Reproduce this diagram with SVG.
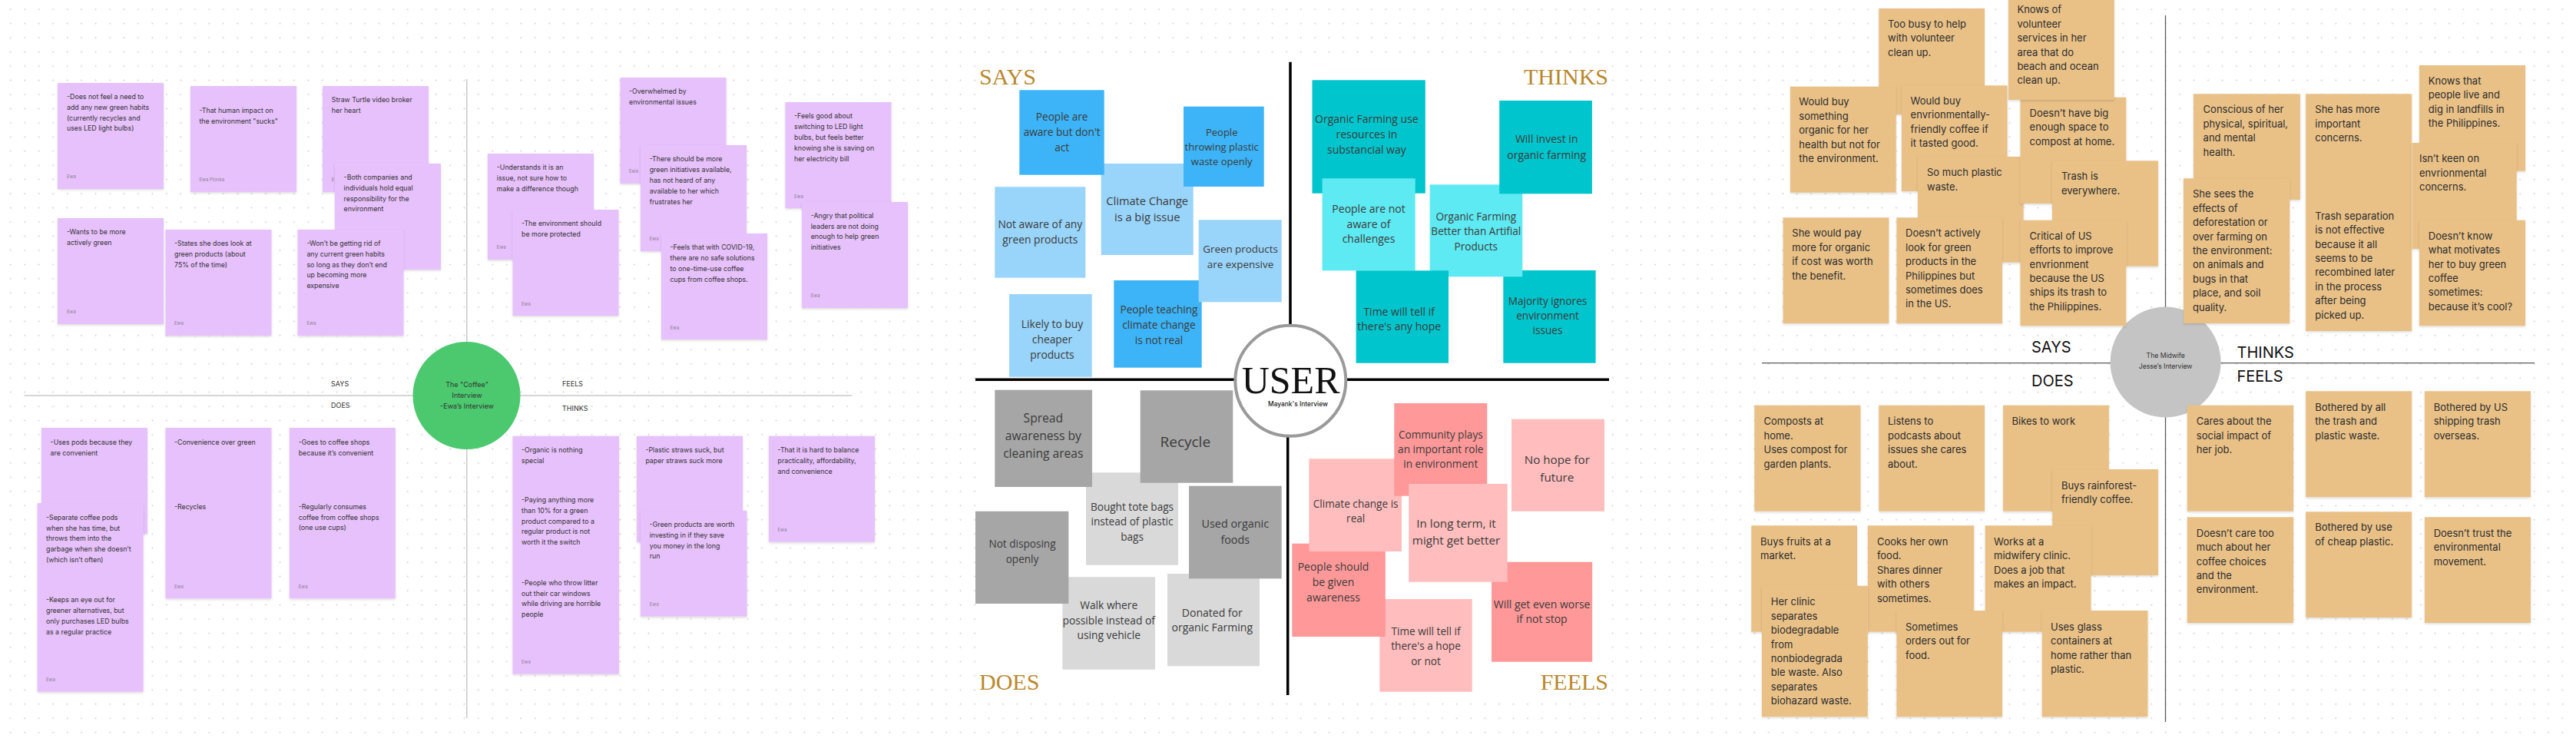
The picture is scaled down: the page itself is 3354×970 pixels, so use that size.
<svg xmlns="http://www.w3.org/2000/svg" width="3354" height="970" viewBox="0 0 3354 970">
<defs>
<pattern id="dots" x="4.57" y="2.97" width="18.46" height="18.46" patternUnits="userSpaceOnUse"><circle cx="9.23" cy="9.23" r="1" fill="#cfcfcf"/></pattern>
<filter id="sh" x="-5%" y="-5%" width="112%" height="112%"><feDropShadow dx="0" dy="1.5" stdDeviation="1.5" flood-color="#000" flood-opacity="0.14"/></filter>
<style>
.lv{fill:#e7c1fc;filter:url(#sh)}
.tn{fill:#e9c187;filter:url(#sh)}
.lt{font-family:Inter,'Liberation Sans',sans-serif;font-size:8.8px;fill:#333}
.ew{font-family:Inter,'Liberation Sans',sans-serif;font-size:6px;fill:#8d8195}
.ll{font-family:Inter,'Liberation Sans',sans-serif;font-size:9px;fill:#333}
.rt{font-family:Inter,'Liberation Sans',sans-serif;font-size:13px;fill:#2d2d2d}
.rl{font-family:Inter,'Liberation Sans',sans-serif;font-size:20px;fill:#111}
.mt{font-family:'Open Sans','Liberation Sans',sans-serif;font-size:13.6px;fill:#3b3b3b;text-anchor:middle}
.gl{font-family:'Liberation Serif',serif;font-size:30px;fill:#b8882c}
.db{fill:#3db4f7}.lb{fill:#99d4fa}.dt{fill:#00c5cc}.lc{fill:#5eeaf2}
.dg{fill:#a6a6a6}.lg{fill:#d9d9d9}.dp{fill:#ff9898}.lp{fill:#ffbdbd}
</style>
</defs>
<rect width="3354" height="970" fill="#ffffff"/>
<rect width="3354" height="970" fill="url(#dots)"/>

<!-- ===== LEFT PANEL ===== -->
<g id="left-connectors" stroke="#c9c9c9" stroke-width="1.5" fill="none">
<line x1="607.8" y1="103" x2="607.8" y2="935"/>
<line x1="31.6" y1="515" x2="1109" y2="515"/>
</g>
<g id="left-labels">
<text class="ll" x="431" y="502.7">SAYS</text>
<text class="ll" x="431" y="531">DOES</text>
<text class="ll" x="732" y="502.7">FEELS</text>
<text class="ll" x="732" y="535">THINKS</text>
</g>
<g id="coffee-center">
<circle cx="607.5" cy="515" r="70" fill="#4cc96f"/>
<text class="ll" text-anchor="middle" fill="#222"><tspan x="608" y="504.3">The "Coffee"</tspan><tspan x="608" y="518.3">Interview</tspan><tspan x="608" y="532">-Ewa’s Interview</tspan></text>
</g>

<g id="l-says-1"><rect class="lv" x="75" y="108" width="138" height="138"/>
<text class="lt"><tspan x="87" y="129">-Does not feel a need to</tspan><tspan x="87" dy="13.8">add any new green habits</tspan><tspan x="87" dy="13.8">(currently recycles and</tspan><tspan x="87" dy="13.8">uses LED light bulbs)</tspan></text>
<text class="ew" x="87" y="231.7">Ewa</text></g>
<g id="l-says-2"><rect class="lv" x="248" y="112" width="138" height="138"/>
<text class="lt"><tspan x="259.4" y="146.7">-That human impact on</tspan><tspan x="259.4" dy="13.8">the environment "sucks"</tspan></text>
<text class="ew" x="259.4" y="235.7">Ewa Plonka</text></g>
<g id="l-says-3"><rect class="lv" x="420" y="112" width="138" height="138"/>
<text class="lt"><tspan x="431.8" y="132.7">Straw Turtle video broker</tspan><tspan x="431.8" dy="13.8">her heart</tspan></text>
<text class="ew" x="431.8" y="235.7">Ewa</text></g>
<g id="l-says-4"><rect class="lv" x="436" y="213" width="138" height="138"/>
<text class="lt"><tspan x="447.6" y="234">-Both companies and</tspan><tspan x="447.6" dy="13.8">individuals hold equal</tspan><tspan x="447.6" dy="13.8">responsibility for the</tspan><tspan x="447.6" dy="13.8">environment</tspan></text></g>
<g id="l-says-5"><rect class="lv" x="75" y="284" width="138" height="138"/>
<text class="lt"><tspan x="87" y="305.3">-Wants to be more</tspan><tspan x="87" dy="13.8">actively green</tspan></text>
<text class="ew" x="87" y="408.3">Ewa</text></g>
<g id="l-says-6"><rect class="lv" x="215.5" y="299" width="138" height="138"/>
<text class="lt"><tspan x="227" y="320">-States she does look at</tspan><tspan x="227" dy="13.8">green products (about</tspan><tspan x="227" dy="13.8">75% of the time)</tspan></text>
<text class="ew" x="227" y="423">Ewa</text></g>
<g id="l-says-7"><rect class="lv" x="387.5" y="299" width="138" height="138"/>
<text class="lt"><tspan x="399.4" y="320">-Won’t be getting rid of</tspan><tspan x="399.4" dy="13.8">any current green habits</tspan><tspan x="399.4" dy="13.8">so long as they don’t end</tspan><tspan x="399.4" dy="13.8">up becoming more</tspan><tspan x="399.4" dy="13.8">expensive</tspan></text>
<text class="ew" x="399.4" y="423">Ewa</text></g>

<g id="l-feels-1"><rect class="lv" x="635" y="200" width="138" height="138"/>
<text class="lt"><tspan x="646.8" y="221">-Understands it is an</tspan><tspan x="646.8" dy="13.8">issue, not sure how to</tspan><tspan x="646.8" dy="13.8">make a difference though</tspan></text>
<text class="ew" x="646.8" y="324">Ewa</text></g>
<g id="l-feels-2"><rect class="lv" x="667.5" y="273" width="138" height="138"/>
<text class="lt"><tspan x="679" y="294.3">-The environment should</tspan><tspan x="679" dy="13.8">be more protected</tspan></text>
<text class="ew" x="679" y="397.7">Ewa</text></g>
<g id="l-feels-3"><rect class="lv" x="807.5" y="101" width="138" height="138"/>
<text class="lt"><tspan x="819" y="122.3">-Overwhelmed by</tspan><tspan x="819" dy="13.8">environmental issues</tspan></text>
<text class="ew" x="819" y="225.3">Ewa</text></g>
<g id="l-feels-4"><rect class="lv" x="834" y="189" width="138" height="138"/>
<text class="lt"><tspan x="845.7" y="210.3">-There should be more</tspan><tspan x="845.7" dy="13.8">green initiatives available,</tspan><tspan x="845.7" dy="13.8">has not heard of any</tspan><tspan x="845.7" dy="13.8">available to her which</tspan><tspan x="845.7" dy="13.8">frustrates her</tspan></text>
<text class="ew" x="845.7" y="313.3">Ewa</text></g>
<g id="l-feels-5"><rect class="lv" x="861" y="304" width="138" height="138"/>
<text class="lt"><tspan x="872.5" y="325.3">-Feels that with COVID-19,</tspan><tspan x="872.5" dy="13.8">there are no safe solutions</tspan><tspan x="872.5" dy="13.8">to one-time-use coffee</tspan><tspan x="872.5" dy="13.8">cups from coffee shops.</tspan></text>
<text class="ew" x="872.5" y="428.7">Ewa</text></g>
<g id="l-feels-6"><rect class="lv" x="1022.5" y="133" width="138" height="138"/>
<text class="lt"><tspan x="1034" y="154.3">-Feels good about</tspan><tspan x="1034" dy="13.8">switching to LED light</tspan><tspan x="1034" dy="13.8">bulbs, but feels better</tspan><tspan x="1034" dy="13.8">knowing she is saving on</tspan><tspan x="1034" dy="13.8">her electricity bill</tspan></text>
<text class="ew" x="1034" y="257.7">Ewa</text></g>
<g id="l-feels-7"><rect class="lv" x="1044" y="263" width="138" height="138"/>
<text class="lt"><tspan x="1055.7" y="283.7">-Angry that political</tspan><tspan x="1055.7" dy="13.8">leaders are not doing</tspan><tspan x="1055.7" dy="13.8">enough to help green</tspan><tspan x="1055.7" dy="13.8">initiatives</tspan></text>
<text class="ew" x="1055.7" y="386.7">Ewa</text></g>

<g id="l-does-1"><rect class="lv" x="54" y="557" width="138" height="138"/>
<text class="lt"><tspan x="65.6" y="578.7">-Uses pods because they</tspan><tspan x="65.6" dy="13.8">are convenient</tspan></text></g>
<g id="l-does-2"><rect class="lv" x="48.6" y="655" width="138" height="245.7"/>
<text class="lt"><tspan x="60" y="676.7">-Separate coffee pods</tspan><tspan x="60" dy="13.8">when she has time, but</tspan><tspan x="60" dy="13.8">throws them into the</tspan><tspan x="60" dy="13.8">garbage when she doesn’t</tspan><tspan x="60" dy="13.8">(which isn’t often)</tspan></text>
<text class="lt"><tspan x="60" y="784.3">-Keeps an eye out for</tspan><tspan x="60" dy="13.8">greener alternatives, but</tspan><tspan x="60" dy="13.8">only purchases LED bulbs</tspan><tspan x="60" dy="13.8">as a regular practice</tspan></text>
<text class="ew" x="60" y="887.3">Ewa</text></g>
<g id="l-does-3"><rect class="lv" x="215.5" y="557" width="138" height="222.3"/>
<text class="lt" x="227" y="578.7">-Convenience over green</text>
<text class="lt" x="227" y="662.7">-Recycles</text>
<text class="ew" x="227" y="766">Ewa</text></g>
<g id="l-does-4"><rect class="lv" x="376.8" y="557" width="138" height="222.3"/>
<text class="lt"><tspan x="388.7" y="578.7">-Goes to coffee shops</tspan><tspan x="388.7" dy="13.8">because it’s convenient</tspan></text>
<text class="lt"><tspan x="388.7" y="662.7">-Regularly consumes</tspan><tspan x="388.7" dy="13.8">coffee from coffee shops</tspan><tspan x="388.7" dy="13.8">(one use cups)</tspan></text>
<text class="ew" x="388.7" y="766">Ewa</text></g>

<g id="l-thinks-1"><rect class="lv" x="667.5" y="567.7" width="138.5" height="310"/>
<text class="lt"><tspan x="679" y="589.3">-Organic is nothing</tspan><tspan x="679" dy="13.8">special</tspan></text>
<text class="lt"><tspan x="679" y="654">-Paying anything more</tspan><tspan x="679" dy="13.8">than 10% for a green</tspan><tspan x="679" dy="13.8">product compared to a</tspan><tspan x="679" dy="13.8">regular product is not</tspan><tspan x="679" dy="13.8">worth it the switch</tspan></text>
<text class="lt"><tspan x="679" y="761.7">-People who throw litter</tspan><tspan x="679" dy="13.8">out their car windows</tspan><tspan x="679" dy="13.8">while driving are horrible</tspan><tspan x="679" dy="13.8">people</tspan></text>
<text class="ew" x="679" y="864.3">Ewa</text></g>
<g id="l-thinks-2"><rect class="lv" x="829" y="567.7" width="138" height="138"/>
<text class="lt"><tspan x="840.4" y="589.3">-Plastic straws suck, but</tspan><tspan x="840.4" dy="13.8">paper straws suck more</tspan></text></g>
<g id="l-thinks-3"><rect class="lv" x="834" y="664.7" width="138.5" height="138"/>
<text class="lt"><tspan x="845.7" y="686">-Green products are worth</tspan><tspan x="845.7" dy="13.8">investing in if they save</tspan><tspan x="845.7" dy="13.8">you money in the long</tspan><tspan x="845.7" dy="13.8">run</tspan></text>
<text class="ew" x="845.7" y="789">Ewa</text></g>
<g id="l-thinks-4"><rect class="lv" x="1001" y="567.7" width="138" height="138"/>
<text class="lt"><tspan x="1012.5" y="589.3">-That it is hard to balance</tspan><tspan x="1012.5" dy="13.8">practicality, affordability,</tspan><tspan x="1012.5" dy="13.8">and convenience</tspan></text>
<text class="ew" x="1012.5" y="692.3">Ewa</text></g>

<!-- ===== MIDDLE PANEL ===== -->
<rect x="1271" y="75" width="826" height="831" fill="#ffffff"/>
<g id="mid-connectors" stroke="#000" stroke-width="3.5" fill="none">
<line x1="1680" y1="80.7" x2="1680" y2="425"/>
<line x1="1676.7" y1="565" x2="1676.7" y2="905"/>
<line x1="1270" y1="494.3" x2="2095" y2="494.3"/>
</g>
<g id="mid-labels">
<text class="gl" x="1275" y="110">SAYS</text>
<text class="gl" x="2094" y="110" text-anchor="end">THINKS</text>
<text class="gl" x="1275" y="898.3">DOES</text>
<text class="gl" x="2094" y="898.3" text-anchor="end">FEELS</text>
</g>

<g id="m-says-2"><rect class="lb" x="1433.7" y="213" width="120" height="119"/>
<text class="mt" style="font-size:14.6px"><tspan x="1493.7" y="266.7">Climate Change</tspan><tspan x="1493.7" dy="21.3">is a big issue</tspan></text></g>
<g id="m-says-1"><rect class="db" x="1327.3" y="117.3" width="110.4" height="110.4"/>
<text class="mt"><tspan x="1382.7" y="156.7">People are</tspan><tspan x="1382.7" dy="20.5">aware but don't</tspan><tspan x="1382.7" dy="20">act</tspan></text></g>
<g id="m-says-3"><rect class="db" x="1541" y="138.7" width="104.7" height="104.3"/>
<text class="mt" style="font-size:13px"><tspan x="1590.7" y="176.7">People</tspan><tspan x="1590.7" dy="19.3">throwing plastic</tspan><tspan x="1590.7" dy="19.3">waste openly</tspan></text></g>
<g id="m-says-4"><rect class="lb" x="1295.3" y="243.3" width="118" height="118.4"/>
<text class="mt" style="font-size:13.8px"><tspan x="1354.3" y="296.7">Not aware of any</tspan><tspan x="1354.3" dy="20.6">green products</tspan></text></g>
<g id="m-says-7"><rect class="db" x="1450.3" y="365" width="114.4" height="113.7"/>
<text class="mt"><tspan x="1509" y="408.3">People teaching</tspan><tspan x="1509" dy="19.8">climate change</tspan><tspan x="1509" dy="20.2">is not real</tspan></text></g>
<g id="m-says-5"><rect class="lb" x="1560.7" y="286.3" width="108" height="107"/>
<text class="mt" style="font-size:13.4px"><tspan x="1615" y="329.3">Green products</tspan><tspan x="1615" dy="19.4">are expensive</tspan></text></g>
<g id="m-says-6"><rect class="lb" x="1314" y="383" width="107.7" height="107.7"/>
<text class="mt" style="font-size:13.8px"><tspan x="1370" y="426.7">Likely to buy</tspan><tspan x="1370" dy="20">cheaper</tspan><tspan x="1370" dy="20.6">products</tspan></text></g>

<g id="m-thinks-1"><rect class="dt" x="1708.5" y="104.3" width="147.3" height="147.4"/>
<text class="mt" style="font-size:14px"><tspan x="1779.4" y="160">Organic Farming use</tspan><tspan x="1779.4" dy="20">resources in</tspan><tspan x="1779.4" dy="20">substancial way</tspan></text></g>
<g id="m-thinks-6"><rect class="dt" x="1957.3" y="352" width="120.3" height="120.7"/>
<text class="mt"><tspan x="2015" y="396.7">Majority ignores</tspan><tspan x="2015" dy="19.3">environment</tspan><tspan x="2015" dy="19.3">issues</tspan></text></g>
<g id="m-thinks-3"><rect class="lc" x="1861.6" y="240.3" width="120.7" height="120"/>
<text class="mt"><tspan x="1921.8" y="286.7">Organic Farming</tspan><tspan x="1921.8" dy="19.3">Better than Artifial</tspan><tspan x="1921.8" dy="20">Products</tspan></text></g>
<g id="m-thinks-4"><rect class="dt" x="1952.2" y="131" width="120.7" height="121.3"/>
<text class="mt" style="font-size:14px"><tspan x="2013.7" y="186">Will invest in</tspan><tspan x="2013.7" dy="20.7">organic farming</tspan></text></g>
<g id="m-thinks-2"><rect class="lc" x="1721.6" y="232.3" width="121.1" height="120"/>
<text class="mt" style="font-size:14px"><tspan x="1782" y="276.7">People are not</tspan><tspan x="1782" dy="20">aware of</tspan><tspan x="1782" dy="19.3">challenges</tspan></text></g>
<g id="m-thinks-5"><rect class="dt" x="1765.6" y="352.3" width="120.4" height="120.4"/>
<text class="mt" style="font-size:14px"><tspan x="1821.7" y="410.7">Time will tell if</tspan><tspan x="1821.7" dy="19.3">there's any hope</tspan></text></g>

<g id="m-does-3"><rect class="lg" x="1414" y="615.3" width="120" height="120.4"/>
<text class="mt"><tspan x="1474" y="665">Bought tote bags</tspan><tspan x="1474" dy="19.3">instead of plastic</tspan><tspan x="1474" dy="19.7">bags</tspan></text></g>
<g id="m-does-1"><rect class="dg" x="1295.3" y="507.7" width="126.7" height="126.3"/>
<text class="mt" style="font-size:15.6px"><tspan x="1358.3" y="550">Spread</tspan><tspan x="1358.3" dy="23.3">awareness by</tspan><tspan x="1358.3" dy="22.7">cleaning areas</tspan></text></g>
<g id="m-does-2"><rect class="dg" x="1484.7" y="508.3" width="120.6" height="120.4"/>
<text class="mt" style="font-size:19px" x="1543.3" y="581.7">Recycle</text></g>
<g id="m-does-6"><rect class="lg" x="1383.3" y="751.3" width="120.7" height="120.4"/>
<text class="mt" style="font-size:13.8px"><tspan x="1443.7" y="793.3">Walk where</tspan><tspan x="1443.7" dy="19.4">possible instead of</tspan><tspan x="1443.7" dy="19.3">using vehicle</tspan></text></g>
<g id="m-does-5"><rect class="dg" x="1270" y="665.7" width="121.3" height="120.3"/>
<text class="mt" style="font-size:13.6px"><tspan x="1331" y="713.3">Not disposing</tspan><tspan x="1331" dy="20">openly</tspan></text></g>
<g id="m-does-7"><rect class="lg" x="1520" y="747" width="120" height="120.3"/>
<text class="mt" style="font-size:14px"><tspan x="1578.3" y="802.7">Donated for</tspan><tspan x="1578.3" dy="19.6">organic Farming</tspan></text></g>
<g id="m-does-4"><rect class="dg" x="1548" y="632.7" width="120.7" height="120.6"/>
<text class="mt" style="font-size:14.4px"><tspan x="1608.3" y="686.7">Used organic</tspan><tspan x="1608.3" dy="21">foods</tspan></text></g>

<g id="m-feels-6"><rect class="lp" x="1796.3" y="780" width="120.4" height="120.7"/>
<text class="mt"><tspan x="1856.5" y="826.7">Time will tell if</tspan><tspan x="1856.5" dy="19.3">there's a hope</tspan><tspan x="1856.5" dy="20">or not</tspan></text></g>
<g id="m-feels-5"><rect class="dp" x="1682.3" y="707.7" width="121.5" height="121.3"/>
<text class="mt" style="font-size:14px"><tspan x="1736" y="743.3">People should</tspan><tspan x="1736" dy="20">be given</tspan><tspan x="1736" dy="19.4">awareness</tspan></text></g>
<g id="m-feels-2"><rect class="lp" x="1704.4" y="597.3" width="120.6" height="120.7"/>
<text class="mt"><tspan x="1765.2" y="661">Climate change is</tspan><tspan x="1765.2" dy="19">real</tspan></text></g>
<g id="m-feels-1"><rect class="dp" x="1815.3" y="525" width="121" height="120.7"/>
<text class="mt"><tspan x="1875.8" y="570.7">Community plays</tspan><tspan x="1875.8" dy="19.3">an important role</tspan><tspan x="1875.8" dy="19.3">in environment</tspan></text></g>
<g id="m-feels-7"><rect class="dp" x="1942" y="731.7" width="131.2" height="130"/>
<text class="mt" style="font-size:14px"><tspan x="2007.6" y="791.7">Will get even worse</tspan><tspan x="2007.6" dy="19.3">if not stop</tspan></text></g>
<g id="m-feels-3"><rect class="lp" x="1834.2" y="630" width="128.5" height="127.7"/>
<text class="mt" style="font-size:15.2px"><tspan x="1896" y="686.7">In long term, it</tspan><tspan x="1896" dy="22.6">might get better</tspan></text></g>
<g id="m-feels-4"><rect class="lp" x="1968" y="545.7" width="121" height="120"/>
<text class="mt" style="font-size:15.2px"><tspan x="2027.3" y="604">No hope for</tspan><tspan x="2027.3" dy="22.7">future</tspan></text></g>

<g id="user-center">
<circle cx="1680.3" cy="495.8" r="72" fill="#ffffff" stroke="#9a9a9a" stroke-width="4"/>
<text x="1680.6" y="511.7" text-anchor="middle" font-family="'Liberation Serif',serif" font-size="50" fill="#111">USER</text>
<text x="1690" y="529" text-anchor="middle" font-family="Inter,'Liberation Sans',sans-serif" font-size="8.4" font-weight="500" fill="#222">Mayank's Interview</text>
</g>

<!-- ===== RIGHT PANEL ===== -->
<g id="right-connectors" stroke="#5a5a5a" stroke-width="1.3" fill="none">
<line x1="2819.5" y1="20" x2="2819.5" y2="940"/>
<line x1="2294" y1="472.7" x2="3300" y2="472.7"/>
</g>
<g id="right-labels">
<text class="rl" x="2645" y="459.3">SAYS</text>
<text class="rl" x="2645" y="503.3">DOES</text>
<text class="rl" x="2912.5" y="466">THINKS</text>
<text class="rl" x="2912.5" y="496.7">FEELS</text>
</g>
<g id="midwife-center">
<circle cx="2819.6" cy="471.5" r="72" fill="#c4c4c4"/>
<text font-family="Inter,'Liberation Sans',sans-serif" font-size="8.6" fill="#333" text-anchor="middle"><tspan x="2819.7" y="466">The Midwife</tspan><tspan x="2819.6" y="480">Jesse’s Interview</tspan></text>
</g>

<g id="r-says-1"><rect class="tn" x="2446.3" y="11" width="137.7" height="138"/>
<text class="rt"><tspan x="2458" y="36">Too busy to help</tspan><tspan x="2458" dy="18.4">with volunteer</tspan><tspan x="2458" dy="18.4">clean up.</tspan></text></g>
<g id="r-says-3"><rect class="tn" x="2331" y="112.7" width="137.7" height="138"/>
<text class="rt"><tspan x="2342.3" y="137.3">Would buy</tspan><tspan x="2342.3" dy="18.4">something</tspan><tspan x="2342.3" dy="18.4">organic for her</tspan><tspan x="2342.3" dy="18.4">health but not for</tspan><tspan x="2342.3" dy="18.4">the environment.</tspan></text></g>
<g id="r-says-4"><rect class="tn" x="2476" y="111.3" width="137.6" height="137.7"/>
<text class="rt"><tspan x="2487.6" y="136">Would buy</tspan><tspan x="2487.6" dy="18.4">envrionmentally-</tspan><tspan x="2487.6" dy="18.4">friendly coffee if</tspan><tspan x="2487.6" dy="18.4">it tasted good.</tspan></text></g>
<g id="r-says-6"><rect class="tn" x="2497" y="204" width="137.6" height="137.7"/>
<text class="rt"><tspan x="2509" y="229.3">So much plastic</tspan><tspan x="2509" dy="18.4">waste.</tspan></text></g>
<g id="r-says-5"><rect class="tn" x="2630.5" y="126.7" width="137.8" height="138.3"/>
<text class="rt"><tspan x="2642.6" y="151.7">Doesn’t have big</tspan><tspan x="2642.6" dy="18.4">enough space to</tspan><tspan x="2642.6" dy="18.4">compost at home.</tspan></text></g>
<g id="r-says-2"><rect class="tn" x="2615" y="-8" width="137.8" height="138"/>
<text class="rt"><tspan x="2626.4" y="17.3">Knows of</tspan><tspan x="2626.4" dy="18.4">volunteer</tspan><tspan x="2626.4" dy="18.4">services in her</tspan><tspan x="2626.4" dy="18.4">area that do</tspan><tspan x="2626.4" dy="18.4">beach and ocean</tspan><tspan x="2626.4" dy="18.4">clean up.</tspan></text></g>
<g id="r-says-7"><rect class="tn" x="2672" y="209.3" width="138" height="137.4"/>
<text class="rt"><tspan x="2683.9" y="234.3">Trash is</tspan><tspan x="2683.9" dy="18.4">everywhere.</tspan></text></g>
<g id="r-says-9"><rect class="tn" x="2469.4" y="283.3" width="137.6" height="137.7"/>
<text class="rt"><tspan x="2481" y="308.3">Doesn’t actively</tspan><tspan x="2481" dy="18.4">look for green</tspan><tspan x="2481" dy="18.4">products in the</tspan><tspan x="2481" dy="18.4">Philippines but</tspan><tspan x="2481" dy="18.4">sometimes does</tspan><tspan x="2481" dy="18.4">in the US.</tspan></text></g>
<g id="r-says-8"><rect class="tn" x="2321.6" y="283.3" width="137.8" height="137.7"/>
<text class="rt"><tspan x="2333.3" y="308.3">She would pay</tspan><tspan x="2333.3" dy="18.4">more for organic</tspan><tspan x="2333.3" dy="18.4">if cost was worth</tspan><tspan x="2333.3" dy="18.4">the benefit.</tspan></text></g>
<g id="r-says-10"><rect class="tn" x="2630.5" y="286.7" width="137.8" height="137.6"/>
<text class="rt"><tspan x="2642.6" y="311.7">Critical of US</tspan><tspan x="2642.6" dy="18.4">efforts to improve</tspan><tspan x="2642.6" dy="18.4">envrionment</tspan><tspan x="2642.6" dy="18.4">because the US</tspan><tspan x="2642.6" dy="18.4">ships its trash to</tspan><tspan x="2642.6" dy="18.4">the Philippines.</tspan></text></g>

<g id="r-thinks-1"><rect class="tn" x="2856" y="122.3" width="138.9" height="137.7"/>
<text class="rt"><tspan x="2868.6" y="147.3">Conscious of her</tspan><tspan x="2868.6" dy="18.4">physical, spiritual,</tspan><tspan x="2868.6" dy="18.4">and mental</tspan><tspan x="2868.6" dy="18.4">health.</tspan></text></g>
<g id="r-thinks-2"><rect class="tn" x="2843" y="232.3" width="138.3" height="188.7"/>
<text class="rt"><tspan x="2855" y="257.3">She sees the</tspan><tspan x="2855" dy="18.4">effects of</tspan><tspan x="2855" dy="18.4">deforestation or</tspan><tspan x="2855" dy="18.4">over farming on</tspan><tspan x="2855" dy="18.4">the environment:</tspan><tspan x="2855" dy="18.4">on animals and</tspan><tspan x="2855" dy="18.4">bugs in that</tspan><tspan x="2855" dy="18.4">place, and soil</tspan><tspan x="2855" dy="18.4">quality.</tspan></text></g>
<g id="r-thinks-3"><rect class="tn" x="3002.2" y="122.3" width="138" height="308.7"/>
<text class="rt"><tspan x="3014.3" y="147.3">She has more</tspan><tspan x="3014.3" dy="18.4">important</tspan><tspan x="3014.3" dy="18.4">concerns.</tspan></text>
<text class="rt"><tspan x="3014.3" y="285.7">Trash separation</tspan><tspan x="3014.3" dy="18.4">is not effective</tspan><tspan x="3014.3" dy="18.4">because it all</tspan><tspan x="3014.3" dy="18.4">seems to be</tspan><tspan x="3014.3" dy="18.4">recombined later</tspan><tspan x="3014.3" dy="18.4">in the process</tspan><tspan x="3014.3" dy="18.4">after being</tspan><tspan x="3014.3" dy="18.4">picked up.</tspan></text></g>
<g id="r-thinks-4"><rect class="tn" x="3150" y="85" width="138" height="137.7"/>
<text class="rt"><tspan x="3161.8" y="110">Knows that</tspan><tspan x="3161.8" dy="18.4">people live and</tspan><tspan x="3161.8" dy="18.4">dig in landfills in</tspan><tspan x="3161.8" dy="18.4">the Philippines.</tspan></text></g>
<g id="r-thinks-5"><rect class="tn" x="3140.5" y="186" width="136.2" height="138"/>
<text class="rt"><tspan x="3150" y="211.3">Isn’t keen on</tspan><tspan x="3150" dy="18.4">envrionmental</tspan><tspan x="3150" dy="18.4">concerns.</tspan></text></g>
<g id="r-thinks-6"><rect class="tn" x="3150" y="286.7" width="138" height="137.6"/>
<text class="rt"><tspan x="3161.8" y="311.7">Doesn’t know</tspan><tspan x="3161.8" dy="18.4">what motivates</tspan><tspan x="3161.8" dy="18.4">her to buy green</tspan><tspan x="3161.8" dy="18.4">coffee</tspan><tspan x="3161.8" dy="18.4">sometimes:</tspan><tspan x="3161.8" dy="18.4">because it’s cool?</tspan></text></g>

<g id="r-does-1"><rect class="tn" x="2284.4" y="527.7" width="138.1" height="138"/>
<text class="rt"><tspan x="2296.5" y="553.3">Composts at</tspan><tspan x="2296.5" dy="18.4">home.</tspan><tspan x="2296.5" dy="18.4">Uses compost for</tspan><tspan x="2296.5" dy="18.4">garden plants.</tspan></text></g>
<g id="r-does-2"><rect class="tn" x="2446.3" y="527.7" width="137.7" height="138"/>
<text class="rt"><tspan x="2458" y="553.3">Listens to</tspan><tspan x="2458" dy="18.4">podcasts about</tspan><tspan x="2458" dy="18.4">issues she cares</tspan><tspan x="2458" dy="18.4">about.</tspan></text></g>
<g id="r-does-3"><rect class="tn" x="2608" y="527.7" width="137.9" height="138"/>
<text class="rt" x="2619.5" y="553.3">Bikes to work</text></g>
<g id="r-does-4"><rect class="tn" x="2672.2" y="611" width="137.8" height="138"/>
<text class="rt"><tspan x="2683.9" y="636.7">Buys rainforest-</tspan><tspan x="2683.9" dy="18.4">friendly coffee.</tspan></text></g>
<g id="r-does-5"><rect class="tn" x="2280.3" y="684.3" width="137.7" height="138.4"/>
<text class="rt"><tspan x="2292" y="710">Buys fruits at a</tspan><tspan x="2292" dy="18.4">market.</tspan></text></g>
<g id="r-does-6"><rect class="tn" x="2431.8" y="684.3" width="138.4" height="138.4"/>
<text class="rt"><tspan x="2443.9" y="710">Cooks her own</tspan><tspan x="2443.9" dy="18.4">food.</tspan><tspan x="2443.9" dy="18.4">Shares dinner</tspan><tspan x="2443.9" dy="18.4">with others</tspan><tspan x="2443.9" dy="18.4">sometimes.</tspan></text></g>
<g id="r-does-7"><rect class="tn" x="2584.7" y="684.3" width="137.8" height="138.4"/>
<text class="rt"><tspan x="2596" y="710">Works at a</tspan><tspan x="2596" dy="18.4">midwifery clinic.</tspan><tspan x="2596" dy="18.4">Does a job that</tspan><tspan x="2596" dy="18.4">makes an impact.</tspan></text></g>
<g id="r-does-8"><rect class="tn" x="2294" y="762.7" width="137.8" height="170.6"/>
<text class="rt"><tspan x="2305.8" y="788.3">Her clinic</tspan><tspan x="2305.8" dy="18.4">separates</tspan><tspan x="2305.8" dy="18.4">biodegradable</tspan><tspan x="2305.8" dy="18.4">from</tspan><tspan x="2305.8" dy="18.4">nonbiodegrada</tspan><tspan x="2305.8" dy="18.4">ble waste. Also</tspan><tspan x="2305.8" dy="18.4">separates</tspan><tspan x="2305.8" dy="18.4">biohazard waste.</tspan></text></g>
<g id="r-does-9"><rect class="tn" x="2469.4" y="795" width="137.6" height="138.3"/>
<text class="rt"><tspan x="2481" y="820.7">Sometimes</tspan><tspan x="2481" dy="18.4">orders out for</tspan><tspan x="2481" dy="18.4">food.</tspan></text></g>
<g id="r-does-10"><rect class="tn" x="2658.7" y="795" width="137.8" height="138.3"/>
<text class="rt"><tspan x="2670" y="820.7">Uses glass</tspan><tspan x="2670" dy="18.4">containers at</tspan><tspan x="2670" dy="18.4">home rather than</tspan><tspan x="2670" dy="18.4">plastic.</tspan></text></g>

<g id="r-feels-1"><rect class="tn" x="2847.7" y="527.7" width="138.3" height="138"/>
<text class="rt"><tspan x="2859.8" y="553.3">Cares about the</tspan><tspan x="2859.8" dy="18.4">social impact of</tspan><tspan x="2859.8" dy="18.4">her job.</tspan></text></g>
<g id="r-feels-2"><rect class="tn" x="3002.2" y="509.3" width="138" height="138"/>
<text class="rt"><tspan x="3014.3" y="535">Bothered by all</tspan><tspan x="3014.3" dy="18.4">the trash and</tspan><tspan x="3014.3" dy="18.4">plastic waste.</tspan></text></g>
<g id="r-feels-3"><rect class="tn" x="3157" y="509.3" width="138" height="138"/>
<text class="rt"><tspan x="3168.7" y="535">Bothered by US</tspan><tspan x="3168.7" dy="18.4">shipping trash</tspan><tspan x="3168.7" dy="18.4">overseas.</tspan></text></g>
<g id="r-feels-4"><rect class="tn" x="2847.7" y="673.3" width="138.3" height="137.7"/>
<text class="rt"><tspan x="2859.8" y="698.7">Doesn’t care too</tspan><tspan x="2859.8" dy="18.4">much about her</tspan><tspan x="2859.8" dy="18.4">coffee choices</tspan><tspan x="2859.8" dy="18.4">and the</tspan><tspan x="2859.8" dy="18.4">environment.</tspan></text></g>
<g id="r-feels-5"><rect class="tn" x="3002.2" y="666.3" width="138" height="137.7"/>
<text class="rt"><tspan x="3014.3" y="691.3">Bothered by use</tspan><tspan x="3014.3" dy="18.4">of cheap plastic.</tspan></text></g>
<g id="r-feels-6"><rect class="tn" x="3157" y="673.3" width="138" height="137.7"/>
<text class="rt"><tspan x="3168.7" y="698.7">Doesn’t trust the</tspan><tspan x="3168.7" dy="18.4">environmental</tspan><tspan x="3168.7" dy="18.4">movement.</tspan></text></g>
</svg>
